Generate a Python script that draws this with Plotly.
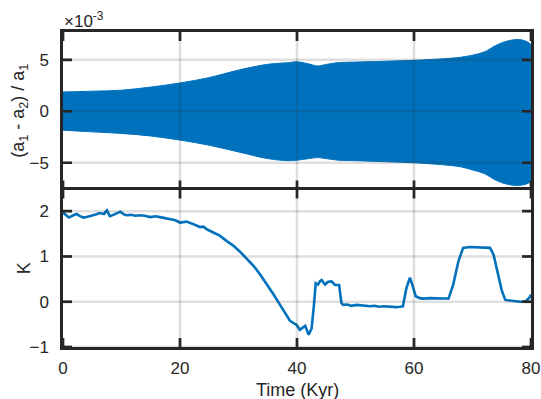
import plotly.graph_objects as go
from plotly.subplots import make_subplots

# ---- data ----
# Envelope of the fast oscillation of (a1-a2)/a1, in units of 1e-3
env_t = [0, 5, 10, 15, 20, 25, 30, 35, 38.5, 40, 42, 43.5, 45, 47, 50, 55, 60, 65,
         68, 70, 72, 74, 76, 78, 79.5, 80]
env_upper = [1.87, 1.95, 2.05, 2.35, 2.75, 3.27, 4.0, 4.56, 4.72, 4.8, 4.6, 4.4, 4.55,
             4.72, 4.78, 4.85, 4.95, 5.1, 5.25, 5.45, 5.76, 6.4, 6.83, 6.96, 6.7, 6.4]
env_lower = [-1.84, -2.0, -2.15, -2.4, -2.8, -3.3, -3.95, -4.6, -4.8, -4.75, -4.6, -4.5,
             -4.6, -4.75, -4.8, -4.9, -5.0, -5.2, -5.4, -5.7, -6.05, -6.7, -7.1, -7.2,
             -7.0, -6.7]

k_t = [0, 0.34, 1.0, 1.6, 2.3, 2.9, 3.5, 4.2, 4.9, 5.6, 6.3, 7.0, 7.5, 8.0, 8.6, 9.2,
       9.8, 10.4, 10.9, 11.6, 12.4, 13.2, 14.0, 14.9, 15.8, 16.6, 17.4, 18.3, 19.2,
       20.0, 20.6, 21.1, 22.2, 23.4, 24.0, 24.6, 25.7, 26.8, 28.0, 29.1, 30.3, 31.4,
       32.6, 33.7, 34.9, 36.0, 37.1, 38.0, 38.8, 39.4, 39.9, 40.5, 41.0, 41.4, 42.0,
       42.5, 42.9, 43.2, 43.6, 43.9, 44.2, 44.5, 44.8, 45.3, 45.9, 46.5, 47.2, 47.6,
       47.9, 48.6, 49.3, 50.2, 51.0, 51.8, 52.5, 53.3, 54.0, 54.8, 55.6, 56.3, 57.0,
       57.6, 58.1, 58.7, 59.3, 59.7, 60.3, 61.0, 61.6, 62.8, 63.9, 65.0, 65.9, 66.7,
       67.6, 68.4, 69.5, 70.7, 71.8, 73.0, 73.6, 74.4, 75.0, 75.6, 76.8, 78.1, 79.0,
       79.8, 80.0]
k_val = [1.97, 1.93, 1.86, 1.9, 1.94, 1.89, 1.86, 1.88, 1.9, 1.93, 1.96, 1.94, 2.02,
         1.89, 1.92, 1.95, 1.99, 1.93, 1.91, 1.92, 1.9, 1.91, 1.9, 1.87, 1.89, 1.87,
         1.85, 1.82, 1.8, 1.75, 1.77, 1.77, 1.72, 1.65, 1.66, 1.6, 1.53, 1.46, 1.34,
         1.24, 1.1, 0.95, 0.79, 0.6, 0.38, 0.16, -0.07, -0.24, -0.42, -0.47, -0.51,
         -0.62, -0.56, -0.53, -0.73, -0.59, -0.07, 0.41, 0.38, 0.45, 0.48, 0.42, 0.38,
         0.44, 0.45, 0.37, 0.37, -0.03, -0.07, -0.06, -0.09, -0.07, -0.08, -0.1, -0.1,
         -0.09, -0.11, -0.1, -0.11, -0.12, -0.12, -0.11, -0.1, 0.3, 0.53, 0.38, 0.12,
         0.08, 0.07, 0.08, 0.07, 0.07, 0.07, 0.38, 0.9, 1.19, 1.21, 1.2, 1.19, 1.19,
         1.04, 0.6, 0.25, 0.04, 0.02, 0.0, 0.0, 0.1, 0.16]

x_ticks = [0, 20, 40, 60, 80]
top_yticks = [-5, 0, 5]
bot_yticks = [-1, 0, 1, 2]

BLUE = "#0072BD"
DARK = "#262626"
FONT = "Liberation Sans"

W, H = 541, 399
ML, MR, MT, MB = 63, 10, 32, 52
PW = W - ML - MR             # plot width in px
PH = (H - MT - MB) / 2.0     # height of each panel in px
TICK = 9                     # tick length in px

fig = make_subplots(rows=2, cols=1, shared_xaxes=False, vertical_spacing=0)

fig.add_trace(go.Scatter(x=env_t + env_t[::-1], y=env_upper + env_lower[::-1],
                         fill="toself", fillcolor=BLUE, mode="lines",
                         line=dict(color=BLUE, width=1, shape="spline"),
                         showlegend=False, hoverinfo="skip"), row=1, col=1)
fig.add_trace(go.Scatter(x=k_t, y=k_val, mode="lines",
                         line=dict(color=BLUE, width=2.6),
                         showlegend=False), row=2, col=1)

axis_common = dict(showline=True, mirror=True, linecolor=DARK, linewidth=2.5,
                   ticks="", showgrid=False, zeroline=False, layer="above traces",
                   automargin=False, tickfont=dict(family=FONT, size=17, color=DARK))

fig.update_xaxes(range=[0, 80], tickvals=x_ticks, **axis_common)
# top panel: frame line only on its top edge (the shared edge is drawn by the lower panel)
fig.update_xaxes(showticklabels=False, side="top", mirror=False, row=1, col=1)
fig.update_xaxes(ticklabelstandoff=4, row=2, col=1)
fig.update_yaxes(ticklabelstandoff=8, **axis_common)
fig.update_yaxes(range=[-7.6, 7.7], tickvals=top_yticks, row=1, col=1)
fig.update_yaxes(range=[-1, 2.48], tickvals=bot_yticks, row=2, col=1)

# grid lines drawn on top of the data (as in the reference)
GRID = "rgba(38,38,38,0.15)"
for xr, yr, yt in [("x", "y", top_yticks), ("x2", "y2", bot_yticks)]:
    for xv in x_ticks[1:-1]:
        fig.add_shape(type="line", xref=xr, yref=f"{yr} domain", x0=xv, x1=xv, y0=0, y1=1,
                      line=dict(color=GRID, width=2.5), layer="above")
    for yv in yt:
        fig.add_shape(type="line", xref=f"{xr} domain", yref=yr, x0=0, x1=1, y0=yv, y1=yv,
                      line=dict(color=GRID, width=2.5), layer="above")

# inside tick marks on all four sides of each panel
tk = dict(color=DARK, width=2.7)
fx = TICK / PH
fy = TICK / PW
for xr, yr, yt in [("x", "y", top_yticks), ("x2", "y2", bot_yticks)]:
    for xv in x_ticks:
        fig.add_shape(type="line", xref=xr, yref=f"{yr} domain", x0=xv, x1=xv, y0=0, y1=fx,
                      line=tk, layer="above")
        fig.add_shape(type="line", xref=xr, yref=f"{yr} domain", x0=xv, x1=xv, y0=1 - fx,
                      y1=1, line=tk, layer="above")
    for yv in yt:
        fig.add_shape(type="line", xref=f"{xr} domain", yref=yr, x0=0, x1=fy, y0=yv, y1=yv,
                      line=tk, layer="above")
        fig.add_shape(type="line", xref=f"{xr} domain", yref=yr, x0=1 - fy, x1=1, y0=yv,
                      y1=yv, line=tk, layer="above")

tfont = dict(family=FONT, size=18, color=DARK)
fig.add_annotation(text="\u00d710<sup>-3</sup>", xref="paper", yref="paper", x=0.0, y=1.0,
                   xanchor="left", yanchor="bottom", showarrow=False, xshift=-1, yshift=-1,
                   font=dict(family=FONT, size=17, color=DARK))
fig.add_annotation(text="Time (Kyr)", xref="paper", yref="paper", x=0.5, y=0,
                   xanchor="center", yanchor="middle", showarrow=False, yshift=-43,
                   font=tfont)
fig.add_annotation(text="(a<sub>1</sub> - a<sub>2</sub>) / a<sub>1</sub>", xref="paper",
                   yref="paper", x=0, y=0.75, xanchor="center", yanchor="middle",
                   textangle=-90, showarrow=False, xshift=-43, font=tfont)
fig.add_annotation(text="K", xref="paper", yref="paper", x=0, y=0.25, xanchor="center",
                   yanchor="middle", textangle=-90, showarrow=False, xshift=-39,
                   font=tfont)

fig.update_layout(width=W, height=H, margin=dict(l=ML, r=MR, t=MT, b=MB),
                  paper_bgcolor="white", plot_bgcolor="white")
fig.update_layout(yaxis=dict(domain=[0.5, 1]), yaxis2=dict(domain=[0, 0.5]))

fig.write_html("out.html", config={"displayModeBar": False},
               post_script="document.body.style.margin='0px';document.body.style.overflow='hidden';")
